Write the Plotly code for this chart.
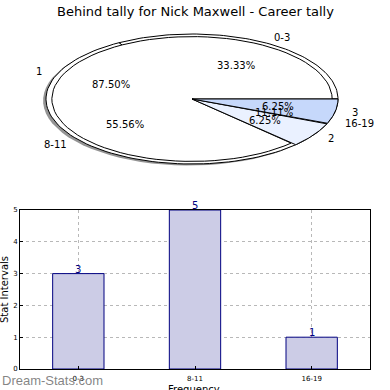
import numpy as np
import plotly.graph_objects as go

# ---- data ----
title_text = "Behind tally for Nick Maxwell - Career tally"
categories = ["0-3", "8-11", "16-19"]
counts = [3, 5, 1]
behind_labels = ["1", "2", "3"]
behind_counts = [14, 1, 1]
y_ticks = [0, 1, 2, 3, 4, 5]

pie1_colors = ["#ffffff", "#ffffff", "#c6d8fb"]
pie2_colors = ["#ffffff", "#eaf1ff", "#c6d8fb"]

W = H = 390
CX_PX, CY_PX, RX_PX, RY_PX = 192, 99, 146, 65

fig = go.Figure()


def wedge(a0, a1, r=1.0, dx=0.0, dy=0.0, n=80):
    t = np.radians(np.linspace(a0, a1, n))
    xs = np.concatenate([[dx], dx + r * np.cos(t), [dx]])
    ys = np.concatenate([[dy], dy + r * np.sin(t), [dy]])
    return xs, ys


def add_pie(values, colors, radii):
    total = float(sum(values))
    angles = np.concatenate([[0], np.cumsum(values) / total * 360.0])
    for i in range(len(values)):
        xs, ys = wedge(angles[i], angles[i + 1], r=radii[i])
        fig.add_trace(go.Scatter(x=xs, y=ys, mode="lines", fill="toself",
                                 fillcolor=colors[i],
                                 line=dict(color="black", width=1),
                                 hoverinfo="skip", showlegend=False,
                                 xaxis="x", yaxis="y"))
    return angles


# shadow
xs, ys = wedge(0, 360, r=1.0, dx=-0.02, dy=-0.025)
fig.add_trace(go.Scatter(x=xs[1:-1], y=ys[1:-1], mode="lines", fill="toself",
                         fillcolor="rgba(60,60,60,0.55)", line=dict(width=0),
                         hoverinfo="skip", showlegend=False, xaxis="x", yaxis="y"))

ang1 = add_pie(counts, pie1_colors, [1.0, 1.0, 1.0])
ang2 = add_pie(behind_counts, pie2_colors, [0.96, 1.0, 1.0])

annotations = []


def pie_texts(labels, values, angles):
    total = float(sum(values))
    for i, lab in enumerate(labels):
        mid = np.radians((angles[i] + angles[i + 1]) / 2)
        lx, ly = 1.1 * np.cos(mid), 1.1 * np.sin(mid)
        annotations.append(dict(x=lx, y=ly, xref="x", yref="y", text=lab,
                                showarrow=False,
                                xanchor="left" if lx > 0 else "right",
                                yanchor="middle",
                                font=dict(size=10, color="black")))
        px_, py_ = 0.6 * np.cos(mid), 0.6 * np.sin(mid)
        annotations.append(dict(x=px_, y=py_, xref="x", yref="y",
                                text="%.2f%%" % (values[i] / total * 100),
                                showarrow=False, xanchor="center",
                                yanchor="middle",
                                font=dict(size=10, color="black")))


pie_texts(categories, counts, ang1)
pie_texts(behind_labels, behind_counts, ang2)

# ---- bar chart ----
fig.add_trace(go.Bar(x=categories, y=counts, width=0.44,
                     marker=dict(color="#ccccE6", line=dict(color="#000080", width=1)),
                     hoverinfo="skip", showlegend=False,
                     xaxis="x2", yaxis="y2"))
for c, v in zip(categories, counts):
    annotations.append(dict(x=c, y=v, xref="x2", yref="y2", text=str(v),
                            showarrow=False, yanchor="bottom", yshift=-3,
                            font=dict(size=10, color="#000080")))

# titles / labels
annotations.append(dict(x=195 / W, y=1 - 11 / H, xref="paper", yref="paper",
                        text=title_text, showarrow=False, xanchor="center",
                        yanchor="middle", font=dict(size=13, color="black")))
annotations.append(dict(x=4 / W, y=1 - 290 / H, xref="paper", yref="paper",
                        text="Stat Intervals", showarrow=False, textangle=-90,
                        xanchor="center", yanchor="middle",
                        font=dict(size=10, color="black")))
annotations.append(dict(x=194 / W, y=1 - 389 / H, xref="paper", yref="paper",
                        text="Frequency", showarrow=False, xanchor="center",
                        yanchor="middle", font=dict(size=10, color="black")))
annotations.append(dict(x=0, y=1 - 380 / H, xref="paper", yref="paper",
                        text="Dream-Stats.com", showarrow=False,
                        xanchor="left", yanchor="middle",
                        font=dict(size=13, family="Liberation Sans",
                                  color="rgba(110,110,110,0.85)")))

fig.update_layout(
    width=W, height=H, autosize=False,
    margin=dict(l=0, r=0, t=0, b=0, pad=0),
    paper_bgcolor="white", plot_bgcolor="white",
    font=dict(family="DejaVu Sans", color="black"),
    xaxis=dict(domain=[0, 1], range=[(0 - CX_PX) / RX_PX, (W - CX_PX) / RX_PX],
               visible=False, fixedrange=True),
    yaxis=dict(domain=[0.5, 1], range=[(CY_PX - 195) / RY_PX, CY_PX / RY_PX],
               visible=False, fixedrange=True),
    xaxis2=dict(domain=[20 / W, 370 / W], range=[-0.5, 2.5], anchor="y2",
                showline=True, mirror=True, linecolor="black", linewidth=1,
                ticks="inside", ticklen=3, tickcolor="black", ticklabelstandoff=3,
                tickfont=dict(size=7), showgrid=True, gridcolor="#b8b8b8",
                griddash="dot", gridwidth=1, zeroline=False, automargin=False),
    yaxis2=dict(domain=[1 - 369 / H, 1 - 210 / H], range=[0, 5], anchor="x2",
                tickvals=y_ticks, showline=True, mirror=True, linecolor="black",
                linewidth=1, ticks="inside", ticklen=3, tickcolor="black",
                tickfont=dict(size=7), showgrid=True, gridcolor="#b8b8b8",
                griddash="dot", gridwidth=1, zeroline=False, automargin=False),
    annotations=annotations,
)

fig.write_html("out.html",
               config={"displayModeBar": False, "responsive": False},
               post_script="document.body.style.margin='0';document.body.style.padding='0';")
